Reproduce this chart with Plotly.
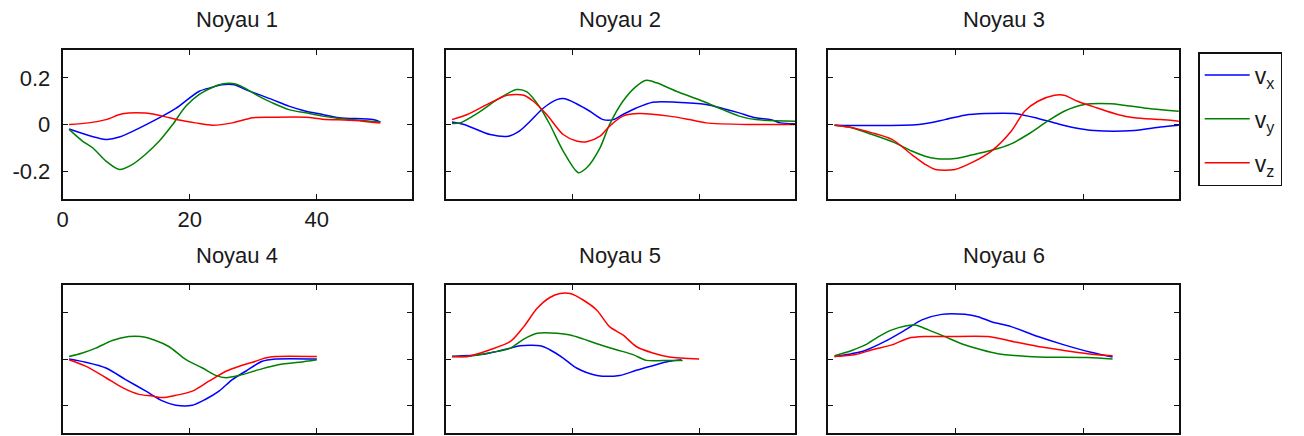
import plotly.graph_objects as go

W, H = 1304, 436

# ---- data ----
titles = ["Noyau 1", "Noyau 2", "Noyau 3", "Noyau 4", "Noyau 5", "Noyau 6"]
series_names = ["v<sub>x</sub>", "v<sub>y</sub>", "v<sub>z</sub>"]
series_colors = ["#0000ff", "#008000", "#ff0000"]
x_ticks = [0, 20, 40]
y_ticks = [-0.2, 0, 0.2]
y_tick_labels = ["-0.2", "0", "0.2"]

n1_vx_x = [1, 6.8, 8.9, 15.7, 17.8, 21.5, 23.6, 25, 27, 28.8, 33, 35.6, 38.3, 40.9, 43.5, 48.8, 50]
n1_vx_y = [-0.019, -0.064, -0.054, 0.036, 0.069, 0.143, 0.16, 0.171, 0.171, 0.15, 0.107, 0.079, 0.057, 0.043, 0.029, 0.021, 0.011]
n1_vy_x = [1, 3.1, 4.7, 6.8, 8.9, 11, 13, 15.2, 17.3, 19.4, 21.5, 23.6, 25.1, 27.2, 28.8, 30.9, 33, 35.6, 38.3, 40.9, 43.5, 50]
n1_vy_y = [-0.021, -0.071, -0.1, -0.157, -0.193, -0.171, -0.129, -0.071, 0, 0.079, 0.129, 0.16, 0.174, 0.174, 0.154, 0.121, 0.093, 0.064, 0.05, 0.036, 0.026, 0.011]
n1_vz_x = [1, 4.1, 6.8, 9.4, 13, 15.7, 18.3, 20.9, 23.6, 26.7, 29.9, 33, 38.3, 40.9, 46, 50]
n1_vz_y = [0, 0.007, 0.021, 0.046, 0.049, 0.036, 0.019, 0.007, -0.003, 0.007, 0.029, 0.031, 0.031, 0.023, 0.017, 0.006]

n2_vx_x = [1, 2.9, 7, 9.9, 11.7, 13.3, 15.4, 17.5, 18.8, 20.6, 22.7, 24.8, 26.4, 27.9, 30, 32.6, 36.3, 41, 43.6, 46.2, 48.8, 51.2, 52.7, 55]
n2_vx_y = [0.011, 0, -0.043, -0.05, -0.026, 0.014, 0.071, 0.107, 0.111, 0.089, 0.057, 0.021, 0.021, 0.043, 0.071, 0.096, 0.096, 0.086, 0.069, 0.05, 0.029, 0.021, 0.007, 0.003]
n2_vy_x = [1, 2.3, 5.5, 8.1, 11.2, 12.8, 14.9, 16.4, 18.5, 20.9, 22.2, 24.3, 25.8, 27.9, 30, 31.6, 33.2, 36.3, 40.5, 43.6, 46.2, 48.8, 55]
n2_vy_y = [0.004, 0.007, 0.057, 0.107, 0.15, 0.14, 0.071, 0, -0.114, -0.207, -0.186, -0.1, 0, 0.1, 0.164, 0.19, 0.179, 0.143, 0.1, 0.064, 0.036, 0.021, 0.014]
n2_vz_x = [1, 3.4, 7, 9.7, 12.3, 13.8, 15.9, 18.5, 20.6, 22.2, 24.3, 25.8, 27.9, 30.5, 35.2, 38.4, 41, 47.8, 55]
n2_vz_y = [0.021, 0.043, 0.093, 0.126, 0.126, 0.1, 0.043, -0.043, -0.071, -0.074, -0.05, -0.007, 0.036, 0.047, 0.036, 0.021, 0.007, 0, 0]

n3_vx_x = [1, 14.2, 18.3, 21.4, 24.6, 29.2, 32.9, 36, 38.6, 41.7, 48, 52.1, 55]
n3_vx_y = [-0.003, 0, 0.021, 0.04, 0.047, 0.047, 0.026, 0.003, -0.014, -0.026, -0.026, -0.011, -0.003]
n3_vy_x = [1, 3.2, 6.9, 10.5, 13.1, 15.2, 16.8, 19.9, 22.5, 25.6, 28.7, 31.3, 34.4, 37, 40.2, 44.3, 46.4, 49.5, 55]
n3_vy_y = [-0.003, -0.011, -0.043, -0.079, -0.114, -0.136, -0.146, -0.146, -0.131, -0.111, -0.083, -0.043, 0.014, 0.057, 0.086, 0.089, 0.083, 0.071, 0.057]
n3_vz_x = [1, 3.2, 6.9, 10, 13.1, 15.2, 16.8, 19.9, 22.5, 25.6, 28.7, 30.8, 32.9, 35.5, 37, 39.1, 42.2, 45.4, 48, 52.1, 55]
n3_vz_y = [-0.003, -0.011, -0.036, -0.064, -0.129, -0.171, -0.193, -0.193, -0.164, -0.114, -0.029, 0.057, 0.1, 0.126, 0.126, 0.1, 0.071, 0.043, 0.029, 0.021, 0.014]

n4_vx_x = [1, 3.6, 6.8, 9.9, 13.1, 15.7, 17.8, 20.4, 22.5, 24.6, 26.7, 28.8, 31.4, 33.5, 40]
n4_vx_y = [0, -0.014, -0.039, -0.089, -0.139, -0.181, -0.2, -0.2, -0.174, -0.139, -0.089, -0.053, -0.01, 0, 0]
n4_vy_x = [1, 3.1, 5.2, 7.8, 10.4, 12.3, 14.6, 16.7, 19.4, 22, 24.1, 25.7, 27.8, 30.9, 34.1, 37.2, 40]
n4_vy_y = [0.011, 0.026, 0.047, 0.08, 0.097, 0.097, 0.08, 0.054, -0.003, -0.039, -0.071, -0.081, -0.071, -0.046, -0.024, -0.014, -0.003]
n4_vz_x = [1, 3.6, 6.8, 9.4, 12, 14.1, 15.7, 17.8, 20.4, 23, 25.7, 27.8, 29.9, 31.9, 33.5, 40]
n4_vz_y = [-0.003, -0.031, -0.081, -0.124, -0.153, -0.16, -0.167, -0.157, -0.139, -0.096, -0.053, -0.031, -0.014, 0.004, 0.011, 0.011]

n5_vx_x = [1, 5.5, 8.1, 10.2, 11.7, 14.9, 16.4, 18.5, 20.6, 23.8, 27.4, 30, 32.6, 35.2, 37.1]
n5_vx_y = [0.011, 0.019, 0.033, 0.047, 0.057, 0.057, 0.04, 0.004, -0.039, -0.071, -0.071, -0.049, -0.029, -0.01, -0.003]
n5_vy_x = [1, 3.4, 5.5, 8.1, 10.2, 12.3, 14.4, 17.5, 19.6, 21.7, 23.8, 26.9, 29.5, 31.6, 35.2, 37.3]
n5_vy_y = [0.011, 0.011, 0.019, 0.033, 0.047, 0.086, 0.111, 0.111, 0.104, 0.086, 0.066, 0.04, 0.019, -0.006, -0.006, -0.006]
n5_vz_x = [1, 3.4, 7, 10.2, 12.3, 14.4, 16.4, 18, 19.6, 21.7, 23.8, 25.8, 27.9, 30, 32.6, 35.2, 39.9]
n5_vz_y = [0.011, 0.011, 0.04, 0.076, 0.14, 0.219, 0.266, 0.283, 0.283, 0.254, 0.211, 0.14, 0.104, 0.054, 0.026, 0.009, 0]

n6_vx_x = [1, 3.7, 5.8, 8.9, 12.1, 14.7, 17.8, 21.4, 23.5, 25.6, 28.7, 32.9, 37, 41.2, 44.6]
n6_vx_y = [0.011, 0.023, 0.037, 0.076, 0.126, 0.169, 0.193, 0.193, 0.183, 0.161, 0.14, 0.097, 0.061, 0.029, 0.009]
n6_vy_x = [1, 3.7, 5.8, 7.9, 10, 12.1, 13.6, 15.7, 18.3, 20.9, 24, 26.6, 29.8, 32.9, 40.7, 44.6]
n6_vy_y = [0.014, 0.037, 0.061, 0.097, 0.126, 0.143, 0.147, 0.126, 0.097, 0.066, 0.04, 0.023, 0.014, 0.009, 0.007, 0]
n6_vz_x = [1, 4.3, 6.9, 10, 12.6, 15.2, 18.3, 25.1, 26.6, 29.8, 32.9, 37, 40.7, 44.6]
n6_vz_y = [0.011, 0.019, 0.04, 0.061, 0.09, 0.097, 0.097, 0.097, 0.09, 0.071, 0.054, 0.037, 0.023, 0.014]

panels = [
    [(n1_vx_x, n1_vx_y), (n1_vy_x, n1_vy_y), (n1_vz_x, n1_vz_y)],
    [(n2_vx_x, n2_vx_y), (n2_vy_x, n2_vy_y), (n2_vz_x, n2_vz_y)],
    [(n3_vx_x, n3_vx_y), (n3_vy_x, n3_vy_y), (n3_vz_x, n3_vz_y)],
    [(n4_vx_x, n4_vx_y), (n4_vy_x, n4_vy_y), (n4_vz_x, n4_vz_y)],
    [(n5_vx_x, n5_vx_y), (n5_vy_x, n5_vy_y), (n5_vz_x, n5_vz_y)],
    [(n6_vx_x, n6_vx_y), (n6_vy_x, n6_vy_y), (n6_vz_x, n6_vz_y)],
]

# ---- layout geometry (pixels) ----
col_px = [(57, 408), (441.7, 792.7), (826, 1178.3)]
row_px = [(50, 199), (285, 433)]
FONT = "Liberation Sans, Arial, sans-serif"
TXT = "#1a1a1a"

fig = go.Figure()
layout = dict(
    width=W, height=H,
    margin=dict(l=0, r=0, t=0, b=0),
    paper_bgcolor="white", plot_bgcolor="white",
    font=dict(family=FONT, size=22, color=TXT),
    showlegend=True,
    legend=dict(
        x=1197.7 / W, y=1 - 52 / H, xanchor="left", yanchor="top",
        bordercolor="#111", borderwidth=1.5, bgcolor="white",
        font=dict(family=FONT, size=23, color=TXT),
        traceorder="grouped", tracegroupgap=11, itemwidth=45,
    ),
)
annotations = []

for i, series in enumerate(panels):
    r, c = divmod(i, 3)
    ax = "" if i == 0 else str(i + 1)
    xa, ya = "x" + ax, "y" + ax
    x0, x1 = col_px[c]
    y0, y1 = row_px[r]
    first = i == 0
    layout["xaxis" + ax] = dict(
        domain=[x0 / W, x1 / W], anchor=ya, range=[0, 55],
        tickvals=x_ticks, showticklabels=first,
        ticks="inside", ticklen=5, tickwidth=1, tickcolor="#111",
        showline=True, linecolor="#111", linewidth=2, mirror="all",
        showgrid=False, zeroline=False, fixedrange=True,
        tickfont=dict(size=22, color=TXT),
    )
    layout["yaxis" + ax] = dict(
        domain=[1 - y1 / H, 1 - y0 / H], anchor=xa, range=[-0.32, 0.32],
        tickvals=y_ticks, ticktext=y_tick_labels, showticklabels=first,
        ticks="inside", ticklen=5, tickwidth=1, tickcolor="#111",
        showline=True, linecolor="#111", linewidth=2, mirror="all",
        showgrid=False, zeroline=False, fixedrange=True,
        tickfont=dict(size=22, color=TXT), ticklabelstandoff=6,
    )
    for k, (xs, ys) in enumerate(series):
        fig.add_trace(go.Scatter(
            x=xs, y=ys, mode="lines", xaxis=xa, yaxis=ya,
            name=series_names[k], legendgroup=series_names[k],
            showlegend=first,
            line=dict(color=series_colors[k], width=1.5, shape="spline", smoothing=0.8),
        ))
    annotations.append(dict(
        text=titles[i], xref="paper", yref="paper",
        x=(x0 + x1) / 2 / W, y=1 - (y0 - 30) / H,
        xanchor="center", yanchor="middle", showarrow=False,
        font=dict(family=FONT, size=22, color=TXT),
    ))

layout["annotations"] = annotations
fig.update_layout(**layout)
fig.write_html(
    "out.html",
    config={"displayModeBar": False},
    post_script="document.body.style.margin='0';document.body.style.overflow='hidden';",
)
